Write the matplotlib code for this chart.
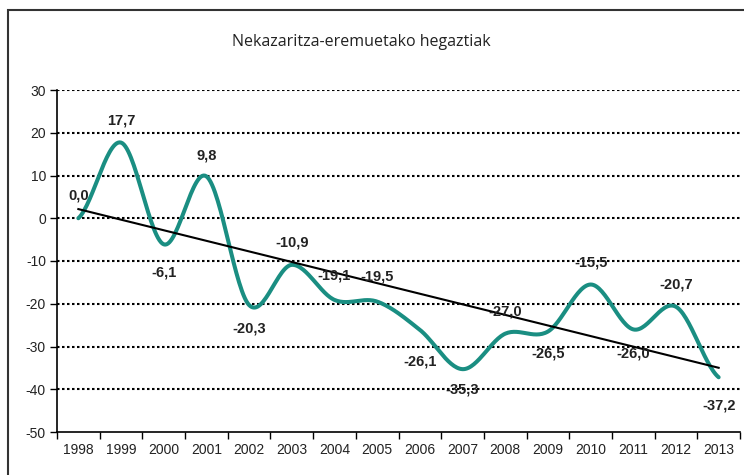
import numpy as np
import matplotlib
matplotlib.use("Agg")
import matplotlib.pyplot as plt
from matplotlib.patches import Rectangle

years = ["1998", "1999", "2000", "2001", "2002", "2003", "2004", "2005",
         "2006", "2007", "2008", "2009", "2010", "2011", "2012", "2013"]
values = [0.0, 17.7, -6.1, 9.8, -20.3, -10.9, -19.1, -19.5,
          -26.1, -35.3, -27.0, -26.5, -15.5, -26.0, -20.7, -37.2]
# label offsets from the point, in pixels (positive = above)
label_offsets = [23, 22, -28, 21, -23, 22, 24, 25, -32, -20, 22, -22, 22, -24, 22, -28]
title = "Nekazaritza-eremuetako hegaztiak"
yticks = [-50, -40, -30, -20, -10, 0, 10, 20, 30]

teal = "#1a8e82"

def smooth(x, y, n=30):
    # Catmull-Rom style smoothing (like spreadsheet "smoothed line")
    x = np.asarray(x, float); y = np.asarray(y, float)
    px = np.concatenate([[2*x[0]-x[1]], x, [2*x[-1]-x[-2]]])
    py = np.concatenate([[y[0]], y, [y[-1]]])
    xs, ys = [], []
    t = np.linspace(0, 1, n, endpoint=False)
    for i in range(1, len(px) - 2):
        p0, p1, p2, p3 = (np.array([px[j], py[j]]) for j in range(i-1, i+3))
        c1 = p1 + (p2 - p0) / 6
        c2 = p2 - (p3 - p1) / 6
        b = ((1-t)**3)[:, None]*p1 + (3*(1-t)**2*t)[:, None]*c1 + (3*(1-t)*t**2)[:, None]*c2 + (t**3)[:, None]*p2
        xs.extend(b[:, 0]); ys.extend(b[:, 1])
    xs.append(x[-1]); ys.append(y[-1])
    return np.array(xs), np.array(ys)

fig = plt.figure(figsize=(7.44, 4.75), dpi=100)
fig.patches.append(Rectangle((8/744, -0.1), 1.2, 1 - 10/475 + 0.1, transform=fig.transFigure,
                             fill=False, edgecolor="#333333", linewidth=1.5))
ax = fig.add_axes([57/744, 1-432/475, 683/744, (432-90)/475])

x = np.arange(len(years))
sx, sy = smooth(x, values)
ax.plot(sx, sy, color=teal, lw=2.9, solid_capstyle="round", zorder=3)

coef = np.polyfit(x, values, 1)
tx = np.array([x[0], x[-1]])
ax.plot(tx, np.polyval(coef, tx), color="black", lw=1.5, zorder=4)

for yv in yticks[1:]:
    ax.axhline(yv, color="black", lw=1.5, linestyle=(0, (1.2, 1.2)), zorder=1)

for xi, v, off in zip(x, values, label_offsets):
    txt = f"{v:.1f}".replace(".", ",")
    ax.annotate(txt, (xi, v), xytext=(0, off * 0.72), textcoords="offset points",
                ha="center", va="center", fontsize=10.5, fontweight="bold",
                family="Liberation Sans", color="#222222", zorder=5)

ax.set_xlim(-0.5, len(years) - 0.5)
ax.set_ylim(-50, 30)
ax.set_yticks(yticks)
ax.set_yticklabels([str(t) for t in yticks], family="Liberation Sans", fontsize=10, color="#222222")
ax.set_xticks(x)
ax.set_xticklabels(years, family="Liberation Sans", fontsize=10, color="#222222")
ax.set_xticks(np.arange(len(years) + 1) - 0.5, minor=True)
ax.tick_params(axis="x", which="major", length=0, pad=8)
ax.tick_params(axis="x", which="minor", length=5, width=1, direction="out")
ax.tick_params(axis="y", length=5, width=1, direction="out", pad=3)
for s in ["top", "right"]:
    ax.spines[s].set_visible(False)
for s in ["left", "bottom"]:
    ax.spines[s].set_linewidth(1.2)

fig.text(361/744, 1-42/475, title, ha="center", va="center", fontsize=11.5,
         family="Open Sans", color="#222222")

fig.savefig("out.png", dpi=100)
